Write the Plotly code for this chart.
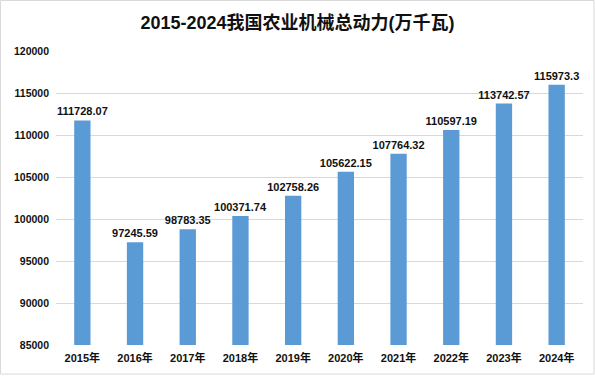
import plotly.graph_objects as go

years = ["2015年", "2016年", "2017年", "2018年", "2019年", "2020年", "2021年", "2022年", "2023年", "2024年"]
values = [111728.07, 97245.59, 98783.35, 100371.74, 102758.26, 105622.15, 107764.32, 110597.19, 113742.57, 115973.3]
labels = ["111728.07", "97245.59", "98783.35", "100371.74", "102758.26", "105622.15", "107764.32", "110597.19", "113742.57", "115973.3"]
tickvals = [85000, 90000, 95000, 100000, 105000, 110000, 115000, 120000]

font_family = "Liberation Sans, Noto Sans CJK SC, sans-serif"

L, R, T, B = 56, 12, 51, 32
PW, PH = 595 - L - R, 377 - T - B

fig = go.Figure(go.Bar(
    x=years, y=values, text=labels, textposition="outside", constraintext="none",
    marker=dict(color="#5B9BD5", line=dict(width=0)),
    textfont=dict(family=font_family, size=11, color="#111111", weight="bold"),
    cliponaxis=False,
))

fig.update_layout(
    width=595, height=377,
    margin=dict(l=L, r=R, t=T, b=B, autoexpand=False),
    paper_bgcolor="white", plot_bgcolor="white",
    bargap=0.69,
    uniformtext=dict(mode=False),
    title=dict(text="<b>2015-2024我国农业机械总动力(万千瓦)</b>", x=0.5, xanchor="center", y=1 - 23 / 377, yanchor="middle",
               font=dict(family=font_family, size=18, color="#111111")),
    xaxis=dict(tickfont=dict(family=font_family, size=11, color="#111111", weight="bold"), showline=False, ticks="",
               automargin=False, ticklabelstandoff=5),
    yaxis=dict(range=[85000, 120000], tickvals=tickvals, tickformat="d", showgrid=True, gridcolor="#D9D9D9",
               gridwidth=1, zeroline=False, ticks="", ticklen=0, automargin=False, ticklabelstandoff=6,
               tickfont=dict(family=font_family, size=10.5, color="#111111", weight="bold")),
    shapes=[dict(type="rect", xref="paper", yref="paper",
                 x0=(0.5 - L) / PW, x1=(594 - L) / PW, y0=-(374 - (T + PH)) / PH, y1=1 + (T - 0.5) / PH,
                 line=dict(color="#D9D9D9", width=1))],
    showlegend=False,
)

fig.write_html("out.html", config={"displayModeBar": False},
               post_script="document.body.style.margin='0';")
